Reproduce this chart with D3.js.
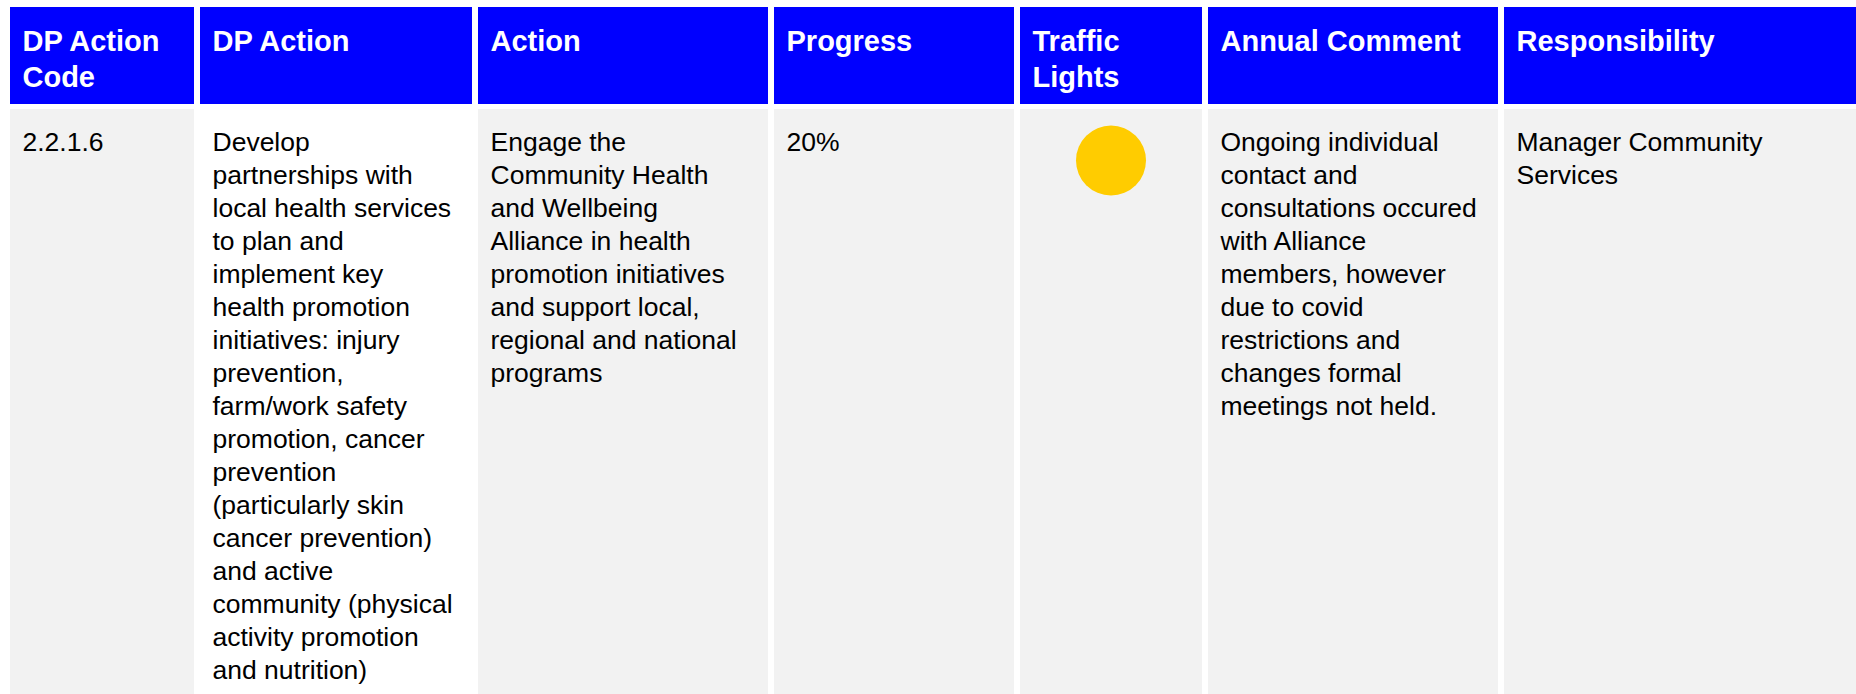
<!DOCTYPE html>
<html>
<head>
<meta charset="utf-8">
<script src="https://cdn.jsdelivr.net/npm/d3@7"></script>
<style>
  html, body { margin: 0; padding: 0; background: #ffffff; }
  svg { display: block; }
</style>
</head>
<body>
<svg id="chart" width="1856" height="694"></svg>
<script>
// ---- data ----
const headers = [
  ["DP Action", "Code"],
  ["DP Action"],
  ["Action"],
  ["Progress"],
  ["Traffic", "Lights"],
  ["Annual Comment"],
  ["Responsibility"]
];
const actionCodes = ["2.2.1.6"];
const dpActionLines = [
  "Develop", "partnerships with", "local health services", "to plan and",
  "implement key", "health promotion", "initiatives: injury", "prevention,",
  "farm/work safety", "promotion, cancer", "prevention", "(particularly skin",
  "cancer prevention)", "and active", "community (physical", "activity promotion",
  "and nutrition)"
];
const actionLines = [
  "Engage the", "Community Health", "and Wellbeing", "Alliance in health",
  "promotion initiatives", "and support local,", "regional and national", "programs"
];
const progressValues = [0.20];
const trafficLights = ["amber"];
const commentLines = [
  "Ongoing individual", "contact and", "consultations occured", "with Alliance",
  "members, however", "due to covid", "restrictions and", "changes formal",
  "meetings not held."
];
const responsibilityLines = ["Manager Community", "Services"];

// ---- layout ----
const W = 1856, H = 694;
const colEdges = [10, 194, 200, 472, 478, 768, 774, 1014, 1020, 1202, 1208, 1498, 1504, 1856];
const cols = d3.range(7).map(i => ({ x0: colEdges[2 * i], x1: colEdges[2 * i + 1] }));
const headTop = 7, headBottom = 104, bodyTop = 109, bodyBottom = H;
const padX = 12.5;
const headFont = 29, headLine = 35.5, headBase = 51;
const bodyFont = 26.5, bodyLine = 33, bodyBase = 150.5;

const lightColor = d3.scaleOrdinal().domain(["red", "amber", "green"]).range(["#FF0000", "#FFCC00", "#00B050"]);
const fmtPct = d3.format(".0%");

const svg = d3.select("#chart");

// header cells
svg.append("g").selectAll("rect").data(cols).join("rect")
  .attr("x", d => d.x0).attr("y", headTop)
  .attr("width", d => d.x1 - d.x0).attr("height", headBottom - headTop)
  .attr("fill", "#0000FF");

// body cells
svg.append("g").selectAll("rect").data(cols).join("rect")
  .attr("x", d => d.x0).attr("y", bodyTop)
  .attr("width", d => d.x1 - d.x0).attr("height", bodyBottom - bodyTop)
  .attr("fill", (d, i) => i === 1 ? "#FFFFFF" : "#F2F2F2");

// header text
const ht = svg.append("g")
  .attr("font-family", "'Liberation Sans', Arial, Helvetica, sans-serif")
  .attr("font-weight", "bold")
  .attr("font-size", headFont)
  .attr("fill", "#FFFFFF");
headers.forEach((lines, i) => {
  ht.append("text")
    .attr("x", cols[i].x0 + padX)
    .attr("y", headBase)
    .selectAll("tspan").data(lines).join("tspan")
    .attr("x", cols[i].x0 + padX)
    .attr("dy", (d, j) => j === 0 ? 0 : headLine)
    .text(d => d);
});

// body text
const bodyCols = [
  { col: 0, lines: actionCodes },
  { col: 1, lines: dpActionLines },
  { col: 2, lines: actionLines },
  { col: 3, lines: progressValues.map(fmtPct) },
  { col: 5, lines: commentLines },
  { col: 6, lines: responsibilityLines }
];
const bt = svg.append("g")
  .attr("font-family", "'Liberation Sans', Arial, Helvetica, sans-serif")
  .attr("font-size", bodyFont)
  .attr("fill", "#000000");
bodyCols.forEach(bc => {
  bt.append("text")
    .attr("x", cols[bc.col].x0 + padX)
    .attr("y", bodyBase)
    .selectAll("tspan").data(bc.lines).join("tspan")
    .attr("x", cols[bc.col].x0 + padX)
    .attr("dy", (d, j) => j === 0 ? 0 : bodyLine)
    .text(d => d);
});

// traffic light
svg.append("g").selectAll("circle").data(trafficLights).join("circle")
  .attr("cx", (cols[4].x0 + cols[4].x1) / 2)
  .attr("cy", 160.5)
  .attr("r", 35)
  .attr("fill", d => lightColor(d));
</script>
</body>
</html>
